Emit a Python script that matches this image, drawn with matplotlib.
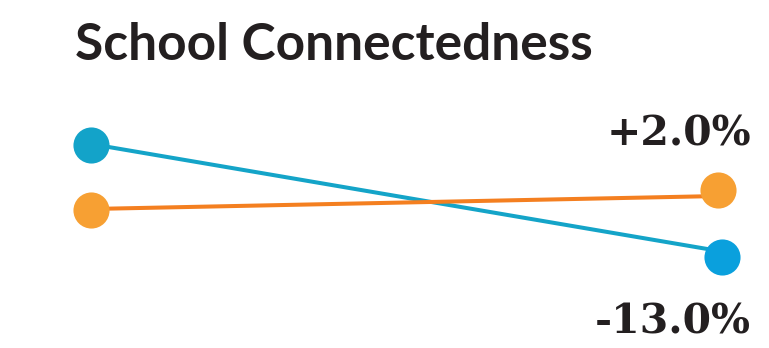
import matplotlib
matplotlib.use("Agg")
import matplotlib.pyplot as plt

# data (abstract score scale)
marker_x = {"blue": [0, 1.005], "orange": [0, 0.998]}
blue_vals = [77.5, 21.5]
orange_vals = [45.0, 55.0]
# connecting lines sit slightly off the dot centres in the original
line_x = [0, 1]
blue_line = [78.0, 24.5]
orange_line = [45.5, 52.0]
title = "School Connectedness"
orange_label = "+2.0%"
blue_label = "-13.0%"

W, H = 769, 348
fig = plt.figure(figsize=(W / 100, H / 100), dpi=100)
# axes: x 0->1 maps to px 91->719, y 0->100 maps to px 300->100 (from top)
ax = fig.add_axes([91 / W, (H - 300) / H, (719 - 91) / W, 200 / H])
ax.set_xlim(0, 1)
ax.set_ylim(0, 100)
ax.axis("off")

ax.plot(line_x, blue_line, color="#14a4c8", lw=2.9, solid_capstyle="butt", zorder=2, clip_on=False)
ax.plot(line_x, orange_line, color="#f47f20", lw=2.9, solid_capstyle="butt", zorder=2, clip_on=False)
ax.plot(marker_x["blue"][0], blue_vals[0], "o", ms=26, color="#13a3c9", mec="none", zorder=3, clip_on=False)
ax.plot(marker_x["blue"][1], blue_vals[1], "o", ms=26, color="#0aa0dd", mec="none", zorder=3, clip_on=False)
ax.plot(marker_x["orange"], orange_vals, "o", ms=26, color="#f7a033", mec="none", zorder=3, clip_on=False)

fig.text(75 / W, 1 - 60 / H, title, fontsize=37, fontweight="bold",
         family="Lato", color="#231f20", ha="left", va="baseline")

txt = dict(fontsize=29.5, fontweight="bold", family="DejaVu Serif",
           color="#231f20", ha="right", va="baseline")
fig.text(751 / W, 1 - 145 / H, orange_label, **txt)
fig.text(751 / W, 1 - 333 / H, blue_label, **txt)

fig.savefig("out.png", dpi=100)
